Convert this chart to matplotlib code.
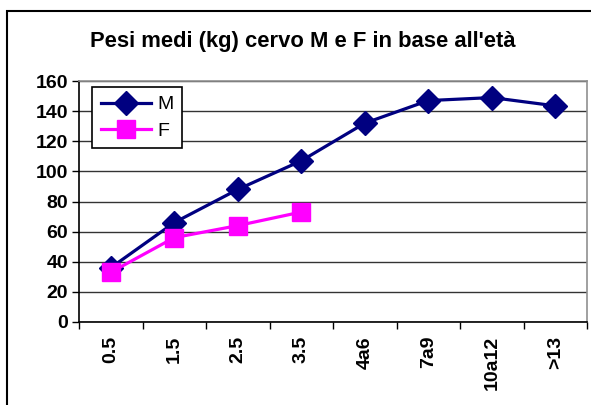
import matplotlib
matplotlib.use('Agg')
import matplotlib.pyplot as plt
from matplotlib.patches import Rectangle

plt.rcParams['font.family'] = ['Liberation Sans', 'DejaVu Sans']

categorie = ['0.5', '1.5', '2.5', '3.5', '4a6', '7a9', '10a12', '>13']
peso_m = [36, 66, 88, 107, 132, 147, 149, 143.5]
peso_f = [33, 56, 64, 73]

W, H = 591, 405
fig = plt.figure(figsize=(W / 100, H / 100), dpi=100)
# area del grafico: x 79..587, y 81..322 (pixel)
ax = fig.add_axes([79 / W, 1 - 322 / H, (587 - 79) / W, (322 - 81) / H])

# bordo esterno del grafico (tagliato a destra e in basso)
fig.patches.append(Rectangle((7 / W, -0.05), 1.1, 1 - 11 / H + 0.05, transform=fig.transFigure,
                             fill=False, edgecolor='black', lw=1.5))

x = list(range(len(categorie)))
ax.plot(x, peso_m, '-D', color='#000080', lw=2.3, ms=12.5, label='M', clip_on=False)
ax.plot(x[:len(peso_f)], peso_f, '-s', color='#FF00FF', lw=2.3, ms=12.5, label='F', clip_on=False)

ax.set_xlim(-0.5, len(categorie) - 0.5)
ax.set_ylim(0, 160)
ax.set_yticks(range(0, 161, 20))
ax.set_xticks(x)
ax.set_xticklabels(categorie, rotation=90, fontsize=14, fontweight='bold')
ax.set_xticks([i + 0.5 for i in range(-1, len(categorie))], minor=True)
ax.tick_params(axis='x', which='major', length=0, pad=10)
ax.tick_params(axis='x', which='minor', length=5, direction='out', width=1)
ax.tick_params(axis='y', length=5, direction='out', width=1, labelsize=14, pad=3)
for t in ax.get_yticklabels():
    t.set_fontweight('bold')

ax.yaxis.grid(True, color='#333333', lw=1)
ax.set_axisbelow(True)
for s in ['top', 'right']:
    ax.spines[s].set_color('#909090')
    ax.spines[s].set_linewidth(1.2)
for s in ['left', 'bottom']:
    ax.spines[s].set_color('black')
    ax.spines[s].set_linewidth(1.2)

leg = ax.legend(loc='upper left', bbox_to_anchor=(13 / 508, 1 - 6 / 241), fontsize=14,
                frameon=True, fancybox=False, edgecolor='black', framealpha=1,
                handlelength=2.6, borderpad=0.45, labelspacing=0.45, handletextpad=0.3,
                borderaxespad=0)
leg.get_frame().set_linewidth(1.2)

fig.text(303 / W, 1 - 41 / H, "Pesi medi (kg) cervo M e F in base all'età", ha='center', va='center',
         fontsize=15.8, fontweight='bold')

fig.savefig('out.png', dpi=100)
